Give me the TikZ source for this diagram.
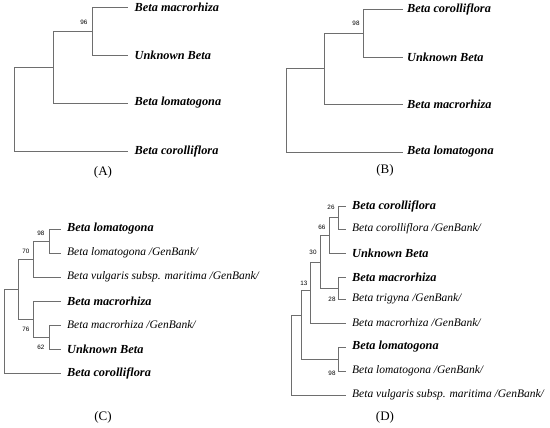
\documentclass[tikz,border=0pt]{standalone}
\usepackage{fontspec}
\setmainfont{Liberation Serif}
\newfontfamily\bootfont{Liberation Sans}
\begin{document}
\begin{tikzpicture}[x=1pt,y=-1pt,
  branch/.style={draw={rgb,255:red,110;green,110;blue,110},line width=0.8pt},
  leafb/.style={anchor=west,inner ysep=0pt,inner xsep=#1,font=\fontsize{12.3}{13}\selectfont\bfseries\itshape},
  leafb/.default=6.5pt,
  leafn/.style={anchor=west,inner ysep=0pt,inner xsep=#1,font=\fontsize{11.5}{12}\selectfont\itshape},
  leafn/.default=6pt,
  boot/.style={inner sep=0pt,font=\fontsize{6.3}{7}\selectfont\bootfont},
  paneltitle/.style={inner sep=0pt,font=\fontsize{13}{14}\selectfont}]
\useasboundingbox (0,0) rectangle (550,428);
% ---------------- Panel A ----------------
\node[leafb] (a11) at (128,7) {Beta macrorhiza};
\node[leafb] (a12) at (128,55) {Unknown Beta};
\node[leafb] (a13) at (128,103) {Beta lomatogona};
\node[leafb] (a14) at (128,151) {Beta corolliflora};
\coordinate (a1) at (92,31);
\coordinate (a2) at (53,67);
\coordinate (a0) at (14,109);
\draw[branch] (a1) |- (a11.west);
\draw[branch] (a1) |- (a12.west);
\draw[branch] (a2) |- (a1);
\draw[branch] (a2) |- (a13.west);
\draw[branch] (a0) |- (a2);
\draw[branch] (a0) |- (a14.west);
\node[boot] (ab1) at (84,22) {96};
\node[paneltitle] (ta) at (103,172) {(A)};
% ---------------- Panel B ----------------
\node[leafb=4pt] (b11) at (403,9) {Beta corolliflora};
\node[leafb=4pt] (b12) at (403,57) {Unknown Beta};
\node[leafb=4pt] (b13) at (403,104) {Beta macrorhiza};
\node[leafb=4pt] (b14) at (403,152) {Beta lomatogona};
\coordinate (b1) at (363,33);
\coordinate (b2) at (324,68);
\coordinate (b0) at (286,110);
\draw[branch] (b1) |- (b11.west);
\draw[branch] (b1) |- (b12.west);
\draw[branch] (b2) |- (b1);
\draw[branch] (b2) |- (b13.west);
\draw[branch] (b0) |- (b2);
\draw[branch] (b0) |- (b14.west);
\node[boot] (bb1) at (356,23) {98};
\node[paneltitle] (tb) at (385,170) {(B)};
% ---------------- Panel C ----------------
\node[leafb=6pt] (c11) at (61,229) {Beta lomatogona};
\node[leafn] (c12) at (61,253) {Beta lomatogona /GenBank/};
\node[leafn] (c13) at (61,277) {Beta vulgaris subsp. maritima /GenBank/};
\node[leafb=6pt] (c14) at (61,301) {Beta macrorhiza};
\node[leafn] (c15) at (61,325) {Beta macrorhiza /GenBank/};
\node[leafb=6pt] (c16) at (61,349) {Unknown Beta};
\node[leafb=6pt] (c17) at (61,373) {Beta corolliflora};
\coordinate (c1) at (49,241);
\coordinate (c2) at (33,259);
\coordinate (c3) at (49,337);
\coordinate (c4) at (33,319);
\coordinate (c5) at (18,289);
\coordinate (c0) at (4,331);
\draw[branch] (c1) |- (c11.west);
\draw[branch] (c1) |- (c12.west);
\draw[branch] (c2) |- (c1);
\draw[branch] (c2) |- (c13.west);
\draw[branch] (c3) |- (c15.west);
\draw[branch] (c3) |- (c16.west);
\draw[branch] (c4) |- (c14.west);
\draw[branch] (c4) |- (c3);
\draw[branch] (c5) |- (c2);
\draw[branch] (c5) |- (c4);
\draw[branch] (c0) |- (c5);
\draw[branch] (c0) |- (c17.west);
\node[boot] (cb1) at (41,233) {98};
\node[boot] (cb2) at (26,251) {70};
\node[boot] (cb3) at (26,329) {76};
\node[boot] (cb4) at (41,347) {62};
\node[paneltitle] (tc) at (103,417) {(C)};
% ---------------- Panel D ----------------
\node[leafb=6pt] (d11) at (346,206) {Beta corolliflora};
\node[leafn] (d12) at (346,229) {Beta corolliflora /GenBank/};
\node[leafb=6pt] (d13) at (346,253) {Unknown Beta};
\node[leafb=6pt] (d14) at (346,277) {Beta macrorhiza};
\node[leafn] (d15) at (346,299) {Beta trigyna /GenBank/};
\node[leafn] (d16) at (346,323) {Beta macrorhiza /GenBank/};
\node[leafb=6pt] (d17) at (346,347) {Beta lomatogona};
\node[leafn] (d18) at (346,371) {Beta lomatogona /GenBank/};
\node[leafn] (d19) at (346,395) {Beta vulgaris subsp. maritima /GenBank/};
\coordinate (d1) at (338,217.5);
\coordinate (d2) at (329,235);
\coordinate (d3) at (338,288);
\coordinate (d4) at (320,262);
\coordinate (d5) at (310,290);
\coordinate (d6) at (338,359);
\coordinate (d7) at (301,315);
\coordinate (d0) at (291,355);
\draw[branch] (d1) |- (d11.west);
\draw[branch] (d1) |- (d12.west);
\draw[branch] (d2) |- (d1);
\draw[branch] (d2) |- (d13.west);
\draw[branch] (d3) |- (d14.west);
\draw[branch] (d3) |- (d15.west);
\draw[branch] (d4) |- (d2);
\draw[branch] (d4) |- (d3);
\draw[branch] (d5) |- (d4);
\draw[branch] (d5) |- (d16.west);
\draw[branch] (d6) |- (d17.west);
\draw[branch] (d6) |- (d18.west);
\draw[branch] (d7) |- (d5);
\draw[branch] (d7) |- (d6);
\draw[branch] (d0) |- (d7);
\draw[branch] (d0) |- (d19.west);
\node[boot] (db1) at (331,207) {26};
\node[boot] (db2) at (322,227) {66};
\node[boot] (db3) at (313,252) {30};
\node[boot] (db4) at (304,283) {13};
\node[boot] (db5) at (332,299) {28};
\node[boot] (db6) at (332,373) {98};
\node[paneltitle] (td) at (385,417) {(D)};
\end{tikzpicture}
\end{document}
